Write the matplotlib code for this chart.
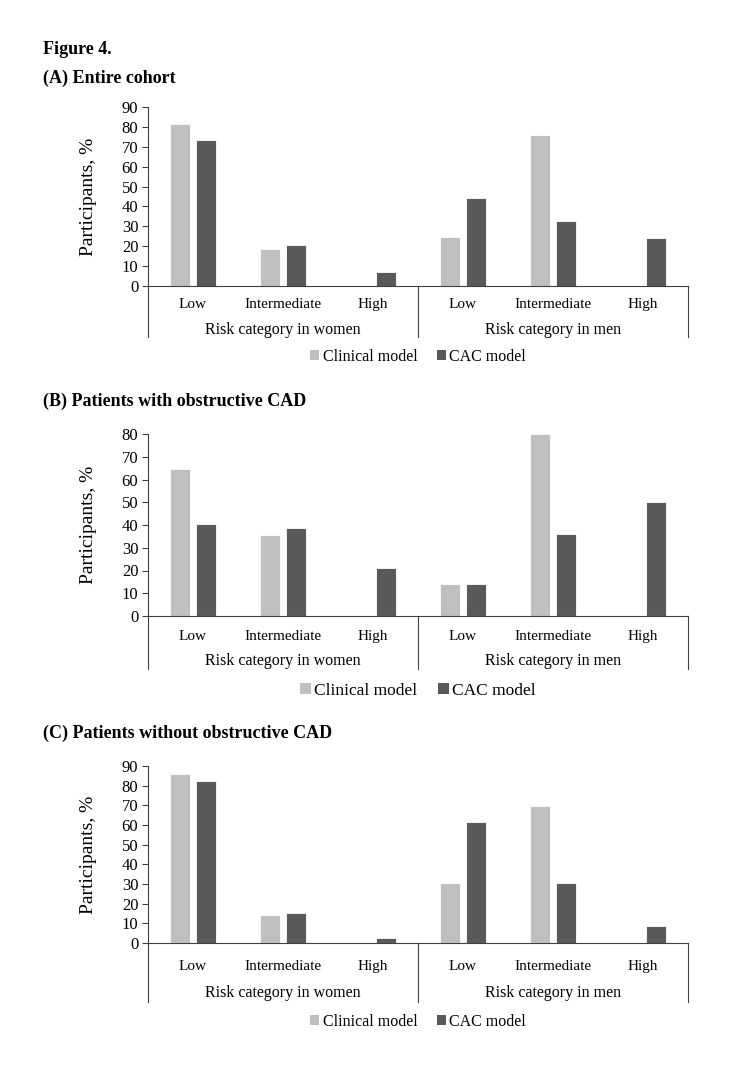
import matplotlib.pyplot as plt
import numpy as np
from matplotlib.patches import Patch

plt.rcParams["font.family"] = ["Liberation Serif", "DejaVu Serif"]

categories = ["Low", "Intermediate", "High", "Low", "Intermediate", "High"]
groups = ["Risk category in women", "Risk category in men"]
series = ["Clinical model", "CAC model"]
titles = [
    "(A) Entire cohort",
    "(B) Patients with obstructive CAD",
    "(C) Patients without obstructive CAD",
]

clinical_a = [81.4, 18.7, 0, 24.5, 75.9, 0]
cac_a = [73.6, 20.4, 6.8, 44.3, 32.8, 24.0]
clinical_b = [64.4, 35.4, 0, 14.1, 80.0, 0]
cac_b = [40.5, 38.9, 21.0, 14.2, 36.1, 50.1]
clinical_c = [85.8, 14.1, 0, 30.3, 69.5, 0]
cac_c = [82.4, 15.3, 2.7, 61.7, 30.3, 8.4]

ymax = [90, 80, 90]

light = "#bfbfbf"
dark = "#595959"

W, H = 750, 1083
fig = plt.figure(figsize=(W / 100, H / 100), dpi=100)

# pixel layout: (top of axis, zero line, label offset, group offset, line end, legend offset, title y)
layout = [
    (107, 286, 17, 44, 51, 71, 78),
    (434, 616, 18, 45, 53, 75, 401),
    (766, 943, 20, 50, 59, 79, 733),
]
ax_left, ax_right = 148, 688

fig.text(43 / W, 1 - 50 / H, "Figure 4.", fontsize=13, fontweight="bold",
         va="center", ha="left")

data = [(clinical_a, cac_a), (clinical_b, cac_b), (clinical_c, cac_c)]
x = np.arange(len(categories))
bw = 0.22
off = 0.145

for i, ((clin, cac), (top, zero, lab_off, grp_off, line_off, leg_off, ty)) in enumerate(zip(data, layout)):
    h_px = zero - top
    ax = fig.add_axes([ax_left / W, 1 - zero / H, (ax_right - ax_left) / W, h_px / H])
    ax.bar(x - off, clin, bw, color=light, edgecolor="white", linewidth=0.6)
    ax.bar(x + off, cac, bw, color=dark, edgecolor="white", linewidth=0.6)
    ax.set_xlim(-0.5, len(categories) - 0.5)
    ax.set_ylim(0, ymax[i])
    ax.set_yticks(np.arange(0, ymax[i] + 1, 10))
    ax.spines["top"].set_visible(False)
    ax.spines["right"].set_visible(False)
    ax.spines["left"].set_color("#404040")
    ax.spines["bottom"].set_color("#404040")
    ax.tick_params(axis="y", direction="out", length=4, width=0.8, color="#404040",
                   labelsize=12, pad=3)
    ax.set_xticks(x)
    ax.set_xticklabels(categories, fontsize=11)
    ax.tick_params(axis="x", length=0, pad=lab_off - 8)
    ax.set_ylabel("Participants, %", fontsize=14)
    ax.yaxis.set_label_coords((97 - ax_left) / (ax_right - ax_left), 0.5)

    trans = ax.get_xaxis_transform()
    for xv in [-0.5, 2.5, 5.5]:
        ax.plot([xv, xv], [0, -line_off / h_px], transform=trans, color="#404040",
                linewidth=0.8, clip_on=False)
    for gi, g in enumerate(groups):
        ax.text(1 + 3 * gi, -grp_off / h_px, g, transform=trans, ha="center",
                va="center", fontsize=11.5)

    handles = [Patch(facecolor=light), Patch(facecolor=dark)]
    ax.legend(handles, series, loc="center", ncol=2, frameon=False,
              bbox_to_anchor=((418 - ax_left) / (ax_right - ax_left), -leg_off / h_px),
              fontsize=11.5 if i != 1 else 12.5, handlelength=0.6, handleheight=0.6,
              handletextpad=0.2, columnspacing=1.2)

    fig.text(43 / W, 1 - ty / H, titles[i], fontsize=13, fontweight="bold",
             va="center", ha="left")

fig.savefig("out.png", dpi=100)
